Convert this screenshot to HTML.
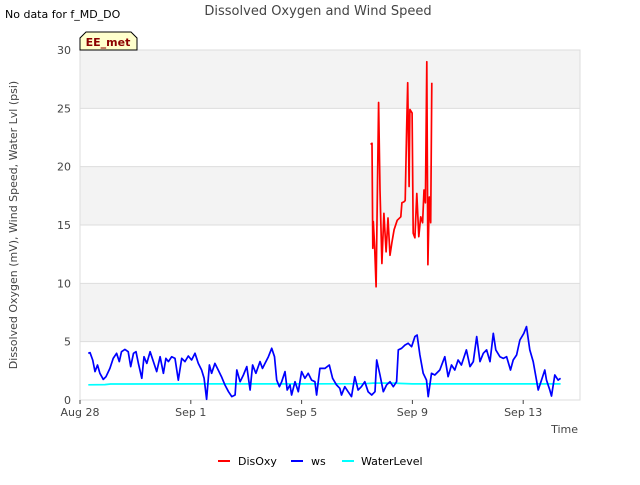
<!DOCTYPE html>
<html><head><meta charset="utf-8"><style>
body{margin:0;background:#fff;font-family:"Liberation Sans","DejaVu Sans",sans-serif}
svg text{font-family:"DejaVu Sans","Liberation Sans",sans-serif}
</style></head><body>
<svg id="c" width="640" height="480" viewBox="0 0 640 480" xmlns="http://www.w3.org/2000/svg">
<rect width="640" height="480" fill="#fff"/>
<text x="5" y="18" font-size="11" fill="#000">No data for f_MD_DO</text>
<text x="318" y="15" font-size="13" fill="#444" text-anchor="middle">Dissolved Oxygen and Wind Speed</text>
<g id="bands"></g>
<g id="grid"></g>
<rect x="80" y="50" width="500" height="350" fill="none" stroke="#ddd"/>
<g id="yticks"></g><g id="xticks"></g>
<g id="series"></g>
<text x="578" y="433" font-size="11" fill="#444" text-anchor="end">Time</text>
<text transform="translate(17,225) rotate(-90)" font-size="11" fill="#444" text-anchor="middle">Dissolved Oxygen (mV), Wind Speed, Water Lvl (psi)</text>
<g>
<path d="M80,50 L80,38 L86,32 L131,32 L137,38 L137,50 Z" fill="#ffffcc" stroke="#000" stroke-width="1"/>
<text x="108" y="46" font-size="11" font-weight="bold" fill="#8b0000" text-anchor="middle">EE_met</text>
</g>
<g>
<g><line x1="218" y1="461" x2="230" y2="461" stroke="#f00" stroke-width="2"/><text x="238" y="465" font-size="11" fill="#000">DisOxy</text></g>
<g><line x1="291" y1="461" x2="303" y2="461" stroke="#00f" stroke-width="2"/><text x="311" y="465" font-size="11" fill="#000">ws</text></g>
<g><line x1="342" y1="461" x2="354" y2="461" stroke="#0ff" stroke-width="2"/><text x="361" y="465" font-size="11" fill="#000">WaterLevel</text></g>
</g>
</svg>
<script>
const yTicks=[0,5,10,15,20,25,30];
const xTickDays=[0,4,8,12,16];
const xTickLabels=["Aug 28","Sep 1","Sep 5","Sep 9","Sep 13"];
const disDays=[10.49,10.54,10.57,10.59,10.64,10.69,10.78,10.83,10.90,10.97,11.05,11.12,11.19,11.26,11.34,11.45,11.58,11.62,11.70,11.74,11.79,11.83,11.88,11.91,11.99,12.03,12.09,12.16,12.23,12.30,12.37,12.42,12.47,12.52,12.56,12.61,12.66,12.70];
const disVals=[21.9,22.0,13.0,15.3,13.0,9.7,25.5,18,11.7,16,12.7,15.6,12.4,13.5,14.6,15.4,15.7,16.9,17,17.1,23.1,27.2,18.3,24.9,24.6,14.3,13.9,17.7,14.0,15.7,15.2,18,16.9,29,11.6,17.4,15.2,27.2];
const wsDays=[0.30,0.36,0.46,0.54,0.63,0.72,0.84,0.94,1.08,1.20,1.32,1.42,1.50,1.62,1.74,1.83,1.93,2.02,2.11,2.23,2.31,2.41,2.53,2.65,2.77,2.89,3.01,3.10,3.19,3.31,3.43,3.55,3.67,3.79,3.91,4.03,4.15,4.27,4.39,4.48,4.57,4.67,4.75,4.87,4.99,5.11,5.23,5.36,5.48,5.60,5.66,5.78,5.90,6.02,6.14,6.23,6.35,6.50,6.59,6.68,6.80,6.92,7.02,7.10,7.20,7.28,7.40,7.48,7.58,7.64,7.76,7.88,8.00,8.12,8.24,8.36,8.48,8.54,8.66,8.84,9.00,9.12,9.26,9.38,9.44,9.56,9.68,9.80,9.92,10.04,10.16,10.28,10.40,10.53,10.65,10.71,10.83,10.95,11.07,11.19,11.31,11.43,11.49,11.61,11.73,11.85,11.97,12.09,12.17,12.27,12.39,12.51,12.57,12.69,12.81,12.99,13.17,13.29,13.41,13.53,13.65,13.77,13.95,14.08,14.20,14.32,14.44,14.56,14.68,14.80,14.92,15.01,15.16,15.28,15.40,15.54,15.64,15.76,15.88,16.02,16.12,16.24,16.36,16.48,16.54,16.66,16.78,16.84,16.96,17.02,17.14,17.26,17.35];
const wsVals=[4.0,4.06,3.43,2.43,3.0,2.29,1.77,2.0,2.71,3.57,4.0,3.29,4.14,4.34,4.14,2.86,4.0,4.14,3.14,1.86,3.71,3.14,4.14,3.29,2.43,3.71,2.29,3.57,3.29,3.71,3.57,1.71,3.57,3.29,3.77,3.43,4.0,3.14,2.57,1.86,0.06,3.0,2.29,3.14,2.57,2.0,1.29,0.71,0.29,0.43,2.57,1.57,2.14,2.86,0.86,3.0,2.29,3.29,2.71,3.14,3.71,4.43,3.71,1.71,1.14,1.57,2.43,0.86,1.29,0.43,1.57,0.71,2.43,1.86,2.29,1.71,1.57,0.43,2.71,2.71,3.0,1.86,1.29,1.0,0.43,1.14,0.71,0.29,2.0,0.86,1.14,1.57,0.71,0.43,0.71,3.43,2.14,0.71,1.29,1.57,1.14,1.57,4.29,4.43,4.71,4.86,4.57,5.43,5.57,3.86,2.29,1.71,0.29,2.29,2.14,2.57,3.71,2.0,3.0,2.57,3.43,3.0,4.29,2.86,3.29,5.43,3.29,4.0,4.29,3.29,5.71,4.29,3.71,3.57,3.71,2.57,3.43,3.86,5.14,5.71,6.29,4.29,3.29,1.71,0.86,1.71,2.57,1.71,0.86,0.34,2.14,1.71,1.86];
const wlDays=[0.3,0.9,1.1,4,8,10.3,10.6,11.3,11.5,12,14,17.35];
const wlVals=[1.3,1.32,1.37,1.38,1.38,1.4,1.45,1.45,1.42,1.38,1.38,1.38];
const NS="http://www.w3.org/2000/svg";
const X=d=>80+d*27.7, Y=v=>400-v*350/30;
function mk(tag,attrs,parent){const e=document.createElementNS(NS,tag);for(const k in attrs)e.setAttribute(k,attrs[k]);parent.appendChild(e);return e;}
const bands=document.getElementById('bands'),grid=document.getElementById('grid'),yt=document.getElementById('yticks'),xt=document.getElementById('xticks'),ser=document.getElementById('series');
[[25,30],[15,20],[5,10]].forEach(b=>{const r=mk('rect',{x:80,y:Y(b[1]),width:500,height:Y(b[0])-Y(b[1]),fill:'#f3f3f3'},bands);

});
yTicks.forEach(v=>{const l=mk('line',{x1:80,x2:580,y1:Y(v),y2:Y(v),stroke:'#ddd'},grid);


const t=mk('text',{x:71,y:Y(v)+4,'font-size':11,fill:'#444','text-anchor':'end'},yt);t.textContent=v;

});
xTickDays.forEach((d,i)=>{mk('line',{x1:X(d),x2:X(d),y1:400,y2:404,stroke:'#444'},xt);
const t=mk('text',{x:X(d),y:416,'font-size':11,fill:'#444','text-anchor':'middle'},xt);t.textContent=xTickLabels[i];

});
function line(ds,vs,col,name){const p=mk('polyline',{points:ds.map((d,i)=>X(d).toFixed(1)+','+Y(vs[i]).toFixed(1)).join(' '),fill:'none',stroke:col,'stroke-width':1.7,'stroke-linejoin':'round'},ser);

}
line(wlDays,wlVals,'#0ff','waterlevel-line');
line(wsDays,wsVals,'#00f','ws-line');
line(disDays,disVals,'#f00','disoxy-line');
</script>
</body></html>
